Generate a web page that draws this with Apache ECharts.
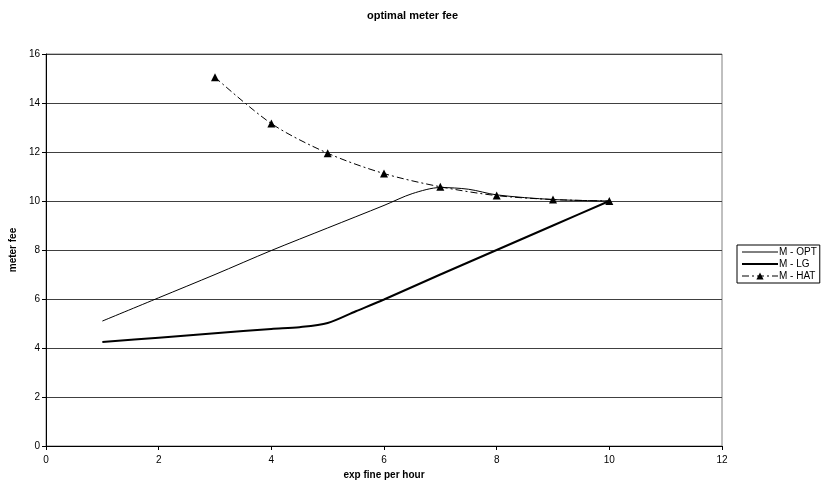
<!DOCTYPE html>
<html>
<head>
<meta charset="utf-8">
<script src="https://cdn.jsdelivr.net/npm/echarts@6/dist/echarts.min.js"></script>
<style>html,body{margin:0;padding:0;background:#fff}#c{width:825px;height:491px}</style>
</head>
<body>
<div id="c"></div>
<script>
var optX = [1, 2, 3, 4, 5, 6, 6.5, 7, 7.5, 8, 9, 10];
var optY = [5.1, 6.05, 7.0, 7.98, 8.9, 9.82, 10.3, 10.55, 10.48, 10.25, 10.06, 10.0];
var lgX = [1, 2, 3, 4, 4.5, 5, 5.5, 6, 7, 8, 9, 10];
var lgY = [4.24, 4.42, 4.6, 4.78, 4.85, 5.02, 5.5, 5.98, 7.0, 8.0, 9.0, 10.0];
var hatX = [3, 4, 5, 6, 7, 8, 9, 10];
var hatY = [15.05, 13.16, 11.95, 11.12, 10.58, 10.22, 10.06, 10.0];
var xTicks = [0, 2, 4, 6, 8, 10, 12];
var yTicks = [0, 2, 4, 6, 8, 10, 12, 14, 16];

function pairs(xs, ys) { return xs.map(function (x, i) { return [x, ys[i]]; }); }

var font = 'Liberation Sans, Arial, sans-serif';
var chart = echarts.init(document.getElementById('c'), null, {renderer: 'canvas'});
chart.setOption({
  animation: false,
  backgroundColor: '#fff',
  title: {
    text: 'optimal meter fee', left: 'center', top: 5,
    textStyle: {fontFamily: font, fontSize: 11, fontWeight: 'bold', color: '#000'}
  },
  grid: {left: 44, right: 103, top: 54, bottom: 45, show: true, borderColor: '#808080', borderWidth: 1},
  legend: {
    orient: 'vertical', left: 737, top: 245,
    data: [
      {name: 'M - OPT', lineStyle: {width: 1}, itemStyle: {opacity: 0}},
      {name: 'M - LG', lineStyle: {width: 2}, itemStyle: {opacity: 0}},
      {name: 'M - HAT', lineStyle: {width: 1}}
    ],
    itemWidth: 36, itemHeight: 9, itemGap: 2,
    padding: [2, 3, 2, 4],
    borderColor: '#000', borderWidth: 1,
    textStyle: {fontFamily: font, fontSize: 10, color: '#000', padding: [0, 0, 0, -4]}
  },
  xAxis: {
    type: 'value', min: xTicks[0], max: xTicks[xTicks.length - 1], interval: 2,
    name: 'exp fine per hour', nameLocation: 'middle', nameGap: 24,
    nameTextStyle: {fontFamily: font, fontSize: 10, fontWeight: 'bold', color: '#000'},
    axisLine: {show: true, lineStyle: {color: '#000', width: 1}},
    axisTick: {show: true, length: 4, lineStyle: {color: '#000'}},
    axisLabel: {fontFamily: font, fontSize: 10, color: '#000', margin: 9},
    splitLine: {show: false}
  },
  yAxis: {
    type: 'value', min: yTicks[0], max: yTicks[yTicks.length - 1], interval: 2,
    name: 'meter fee', nameLocation: 'middle', nameGap: 23, nameRotate: 90,
    nameTextStyle: {fontFamily: font, fontSize: 10, fontWeight: 'bold', color: '#000'},
    axisLine: {show: true, lineStyle: {color: '#000', width: 1}},
    axisTick: {show: true, length: 4, lineStyle: {color: '#000'}},
    axisLabel: {fontFamily: font, fontSize: 10, color: '#000', margin: 6},
    splitLine: {show: true, lineStyle: {color: '#404040', width: 1}}
  },
  series: [
    {
      name: 'M - OPT', type: 'line', smooth: 0.3, symbol: 'none',
      data: pairs(optX, optY), color: '#000',
      lineStyle: {color: '#000', width: 1}
    },
    {
      name: 'M - LG', type: 'line', smooth: 0.3, symbol: 'none',
      data: pairs(lgX, lgY), color: '#000',
      lineStyle: {color: '#000', width: 2}
    },
    {
      name: 'M - HAT', type: 'line', smooth: 0.3, symbol: 'triangle', symbolSize: 8,
      data: pairs(hatX, hatY), color: '#000',
      itemStyle: {color: '#000'},
      lineStyle: {color: '#000', width: 1, type: [7, 3, 2, 3]}
    }
  ]
});
</script>
</body>
</html>
